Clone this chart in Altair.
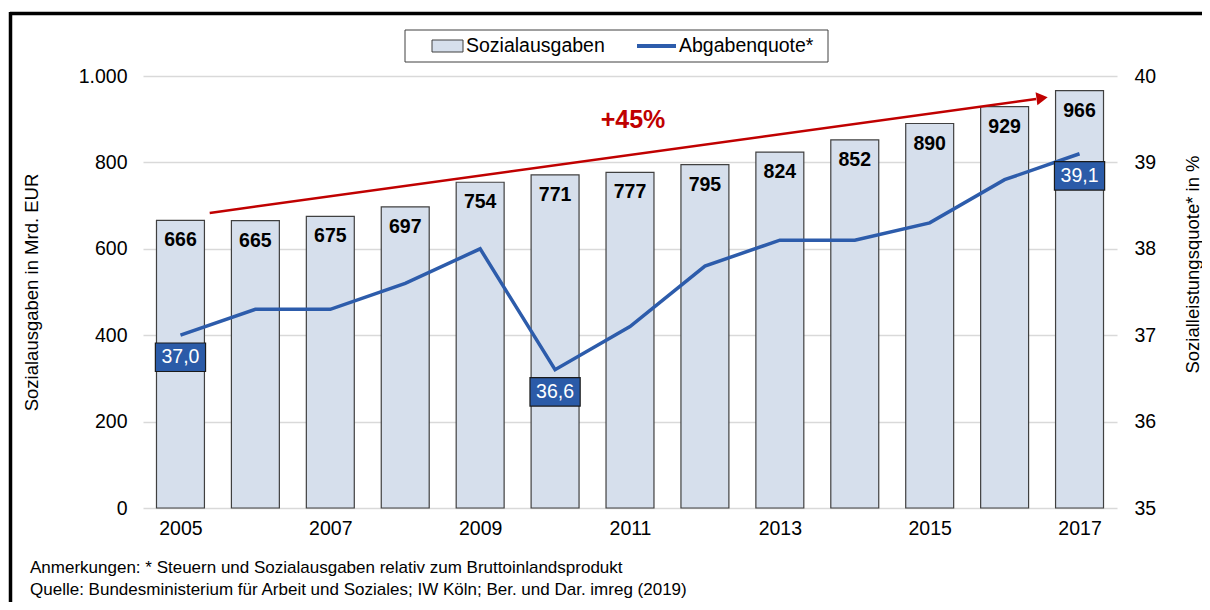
import altair as alt
import pandas as pd

# ---------------- data ----------------
years = list(range(2005, 2018))
sozialausgaben = [666, 665, 675, 697, 754, 771, 777, 795, 824, 852, 890, 929, 966]
abgabenquote = [37.0, 37.3, 37.3, 37.6, 38.0, 36.6, 37.1, 37.8, 38.1, 38.1, 38.3, 38.8, 39.1]
labeled_years = [2005, 2010, 2017]
x_ticks = [2005, 2007, 2009, 2011, 2013, 2015, 2017]
left_ticks = [0, 200, 400, 600, 800, 1000]
right_ticks = [35, 36, 37, 38, 39, 40]

arrow_x = [2005.39, 2016.42]
arrow_y = [683, 947]
arrow_head = {"x": 2016.5, "y": 949}
pct_label = {"x": 2011.04, "y": 898, "t": "+45%"}

legend_labels = ["Sozialausgaben", "Abgabenquote*"]
footnotes = [
    "Anmerkungen:  * Steuern und Sozialausgaben relativ zum Bruttoinlandsprodukt",
    "Quelle: Bundesministerium  für Arbeit und Soziales; IW Köln; Ber. und Dar. imreg (2019)",
]
y_title_left = "Sozialausgaben in Mrd. EUR"
y_title_right = "Sozialleistungsquote* in %"

# ---------------- style ----------------
FONT = "Liberation Sans"
BAR_FILL = "#D6DFEC"
BAR_STROKE = "#404040"
LINE_COL = "#2D5CAB"
RED = "#C00000"
TICK_FS = 19.5

df = pd.DataFrame({"Jahr": years, "S": sozialausgaben, "Q": abgabenquote})
df_lab = df[df["Jahr"].isin(labeled_years)]

W, H = 974, 432

xscale = alt.Scale(domain=[2004.5, 2017.5], nice=False, zero=False)
xaxis = alt.Axis(values=x_ticks, format="d", title=None, domain=False, ticks=False,
                 grid=False, labelPadding=11, labelFontSize=TICK_FS, labelColor="#000",
                 labelFont=FONT)
yl_scale = alt.Scale(domain=[0, 1000], nice=False)
yr_scale = alt.Scale(domain=[35, 40], nice=False)
yl_axis = alt.Axis(values=left_ticks, orient="left", domain=False, ticks=False,
                   grid=True, gridColor="#D9D9D9", gridWidth=1.5,
                   labelExpr="replace(format(datum.value, ',d'), ',', '.')",
                   labelPadding=16, labelFontSize=TICK_FS, labelColor="#000", labelFont=FONT,
                   title=y_title_left, titleFontSize=18.5, titleFont=FONT,
                   titleFontWeight="normal", titleColor="#000",
                   titleX=-112, titleY=H / 2, titleAngle=270,
                   titleAlign="center", titleBaseline="middle")
yr_axis = alt.Axis(values=right_ticks, orient="right", domain=False, ticks=False,
                   grid=False, labelPadding=17, labelFontSize=TICK_FS, labelColor="#000",
                   labelFont=FONT,
                   title=y_title_right, titleFontSize=18.5, titleFont=FONT,
                   titleFontWeight="normal", titleColor="#000",
                   titleX=75, titleY=188, titleAngle=270,
                   titleAlign="center", titleBaseline="middle")

base = alt.Chart(df)

bars = base.transform_calculate(
    x0="datum.Jahr - 0.32", x1="datum.Jahr + 0.32"
).mark_bar(fill=BAR_FILL, stroke=BAR_STROKE, strokeWidth=1.2).encode(
    x=alt.X("x0:Q", scale=xscale, axis=xaxis),
    x2="x1:Q",
    y=alt.Y("S:Q", scale=yl_scale, axis=yl_axis),
    y2=alt.datum(0),
)

bar_text = base.mark_text(font=FONT, fontSize=19.5, fontWeight="bold", color="#000",
                          baseline="middle", dy=20).encode(
    x=alt.X("Jahr:Q", scale=xscale, axis=xaxis),
    y=alt.Y("S:Q", scale=yl_scale, axis=yl_axis),
    text=alt.Text("S:Q"),
)

arrow_df = pd.DataFrame({"x": arrow_x, "y": arrow_y})
arrow = alt.Chart(arrow_df).mark_line(color=RED, strokeWidth=2.5).encode(
    x=alt.X("x:Q", scale=xscale, axis=xaxis),
    y=alt.Y("y:Q", scale=yl_scale, axis=yl_axis),
)
head = alt.Chart(pd.DataFrame([arrow_head])).mark_point(
    shape="triangle-right", filled=True, color=RED, opacity=1, size=170, angle=352
).encode(
    x=alt.X("x:Q", scale=xscale, axis=xaxis),
    y=alt.Y("y:Q", scale=yl_scale, axis=yl_axis),
)
pct = alt.Chart(pd.DataFrame([pct_label])).mark_text(
    font=FONT, fontSize=25, fontWeight="bold", color=RED, baseline="middle"
).encode(
    x=alt.X("x:Q", scale=xscale, axis=xaxis),
    y=alt.Y("y:Q", scale=yl_scale, axis=yl_axis),
    text="t:N",
)

one = alt.Data(values=[{}])

# frame (top and left black lines)
frame_top = alt.Chart(one).mark_rule(color="#000", strokeWidth=3.5).encode(
    x=alt.value(-133), x2=alt.value(1070), y=alt.value(-62.5))
frame_left = alt.Chart(one).mark_rule(color="#000", strokeWidth=3.5).encode(
    x=alt.value(-132.5), y=alt.value(-64), y2=alt.value(540))

# legend
leg_box = alt.Chart(one).mark_rect(fill="#FFFFFF", stroke="#404040", strokeWidth=1).encode(
    x=alt.value(262), x2=alt.value(685), y=alt.value(-46), y2=alt.value(-14))
leg_sym1 = alt.Chart(one).mark_rect(fill=BAR_FILL, stroke=BAR_STROKE, strokeWidth=1).encode(
    x=alt.value(289), x2=alt.value(320), y=alt.value(-36), y2=alt.value(-24))
leg_sym2 = alt.Chart(one).mark_rule(color=LINE_COL, strokeWidth=4).encode(
    x=alt.value(494), x2=alt.value(533), y=alt.value(-30))
leg_t1 = alt.Chart(one).mark_text(font=FONT, fontSize=19.5, align="left", baseline="middle",
                                  color="#000", text=legend_labels[0]).encode(
    x=alt.value(323), y=alt.value(-30))
leg_t2 = alt.Chart(one).mark_text(font=FONT, fontSize=19.5, align="left", baseline="middle",
                                  color="#000", text=legend_labels[1]).encode(
    x=alt.value(536), y=alt.value(-30))

foot1 = alt.Chart(one).mark_text(font=FONT, fontSize=17, align="left", baseline="middle",
                                 color="#000", text=footnotes[0]).encode(
    x=alt.value(-113), y=alt.value(492))
foot2 = alt.Chart(one).mark_text(font=FONT, fontSize=17, align="left", baseline="middle",
                                 color="#000", text=footnotes[1]).encode(
    x=alt.value(-113), y=alt.value(514))

left = alt.layer(bars, bar_text, arrow, head, pct,
                 frame_top, frame_left, leg_box, leg_sym1, leg_sym2, leg_t1, leg_t2,
                 foot1, foot2)

line = base.mark_line(color=LINE_COL, strokeWidth=3.5).encode(
    x=alt.X("Jahr:Q", scale=xscale, axis=xaxis),
    y=alt.Y("Q:Q", scale=yr_scale, axis=yr_axis),
)
boxes = alt.Chart(df_lab).transform_calculate(
    x0="datum.Jahr - 0.335", x1="datum.Jahr + 0.335",
    lo="datum.Q - 0.42", hi="datum.Q - 0.09",
).mark_rect(fill="#2B5BA8", stroke="#1A1A1A", strokeWidth=1.2).encode(
    x=alt.X("x0:Q", scale=xscale, axis=xaxis),
    x2="x1:Q",
    y=alt.Y("lo:Q", scale=yr_scale, axis=yr_axis),
    y2="hi:Q",
)
box_text = alt.Chart(df_lab).transform_calculate(
    lbl="replace(format(datum.Q, '.1f'), '.', ',')"
).mark_text(font=FONT, fontSize=19.5, color="#FFFFFF", baseline="middle", dy=22).encode(
    x=alt.X("Jahr:Q", scale=xscale, axis=xaxis),
    y=alt.Y("Q:Q", scale=yr_scale, axis=yr_axis),
    text="lbl:N",
)

right = alt.layer(line, boxes, box_text)

chart = alt.layer(left, right).resolve_scale(y="independent").properties(
    width=W, height=H,
    autosize=alt.AutoSizeParams(type="none"),
    padding={"left": 135, "top": 68, "right": 85, "bottom": 94},
    background="#FFFFFF",
).configure(font=FONT).configure_view(strokeWidth=0)

chart.save("out.html", embed_options={"renderer": "svg", "actions": False})
